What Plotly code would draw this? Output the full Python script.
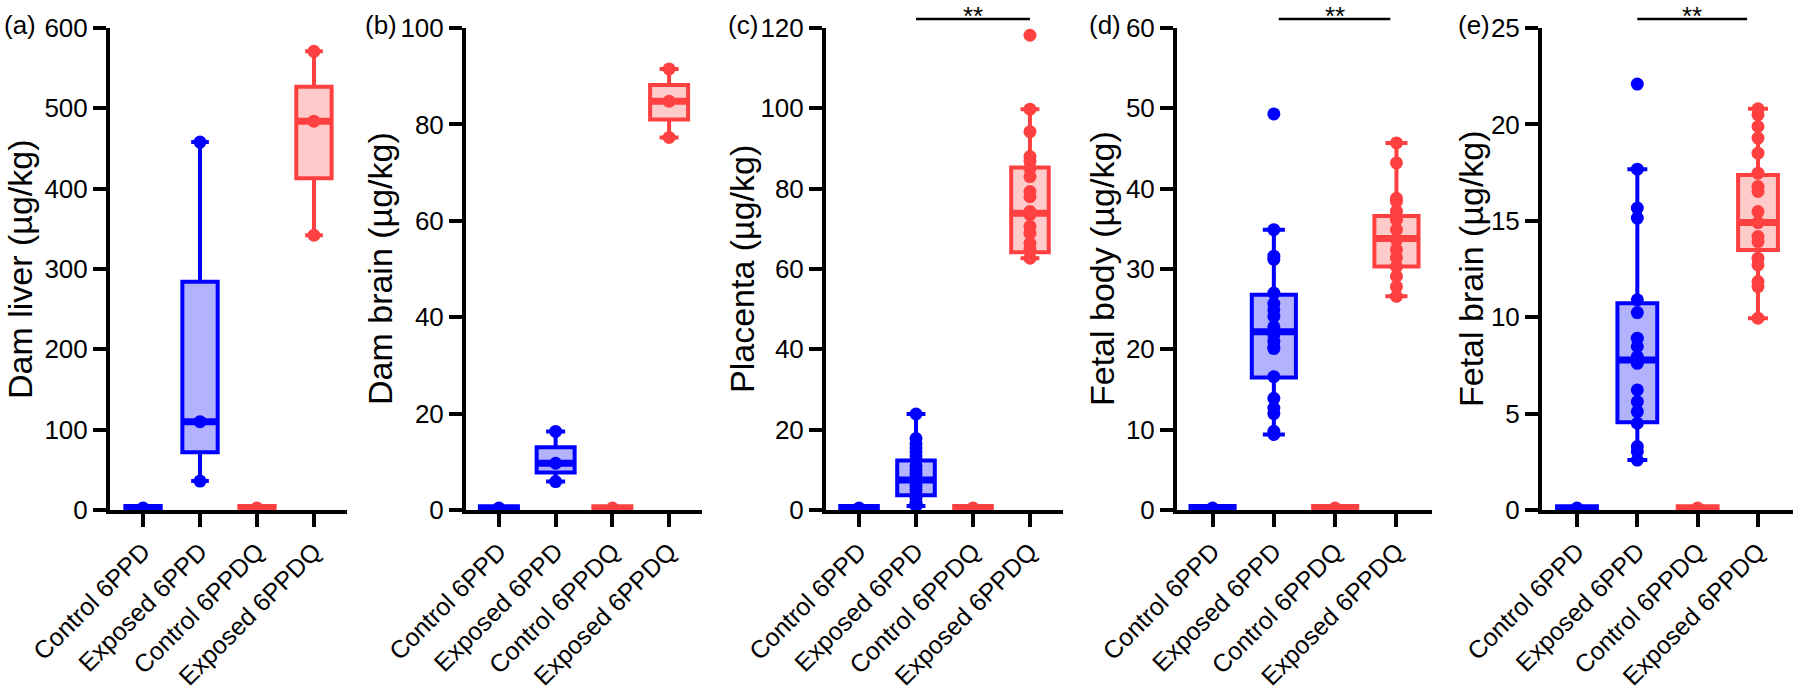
import plotly.graph_objects as go

# ---------------- data ----------------
categories = ["Control 6PPD", "Exposed 6PPD", "Control 6PPDQ", "Exposed 6PPDQ"]
y_titles = ["Dam liver (µg/kg)", "Dam brain (µg/kg)", "Placenta (µg/kg)",
            "Fetal body (µg/kg)", "Fetal brain (µg/kg)"]
panel_labels = ["(a)", "(b)", "(c)", "(d)", "(e)"]
y_max = [600, 100, 120, 60, 25]
y_dtick = [100, 20, 20, 10, 5]

# control groups (values near zero)
ctrl_6ppd = [2.5, 0.4, 0.5, 0.25, 0.1]
ctrl_6ppdq = [2.5, 0.4, 0.5, 0.25, 0.1]

# exposed 6PPD individual values
a_exp_6ppd = [36, 110, 458]
b_exp_6ppd = [5.9, 9.7, 16.3]
c_exp_6ppd = [23.9, 17.8, 16.5, 15.5, 14.5, 13.5, 12.5, 11.0, 10.0, 9.0, 8.0,
              7.5, 7.0, 6.0, 5.0, 4.0, 3.0, 2.0, 1.5, 1.0]
d_exp_6ppd = [49.3, 34.9, 31.6, 31.2, 27.0, 25.7, 24.9, 24.1, 22.8, 21.8, 21.0,
              20.3, 20.1, 16.6, 13.9, 12.7, 12.0, 9.8, 9.4]
e_exp_6ppd = [22.09, 17.68, 15.66, 15.14, 10.90, 10.24, 8.91, 8.48, 7.96, 7.61,
              6.23, 5.62, 5.10, 4.50, 3.29, 3.03, 2.59]

# exposed 6PPDQ individual values
a_exp_6ppdq = [342, 484, 571]
b_exp_6ppdq = [77.3, 84.8, 91.5]
c_exp_6ppdq = [118.2, 99.8, 94.2, 88.0, 86.8, 85.0, 83.0, 79.3, 78.0, 74.3,
               73.5, 70.6, 68.9, 66.4, 65.0, 62.7]
d_exp_6ppdq = [45.7, 43.2, 38.8, 38.4, 37.2, 36.1, 34.9, 33.6, 32.4, 31.4,
               30.3, 29.1, 27.8, 26.6]
e_exp_6ppdq = [20.81, 20.5, 19.89, 19.29, 18.51, 17.47, 16.78, 16.52, 15.48,
               14.91, 14.18, 13.92, 13.06, 12.71, 11.85, 11.59, 9.95]

# box statistics for exposed groups (panels a..e)
exp_6ppd_q1 = [72, 7.8, 3.7, 16.5, 4.55]
exp_6ppd_med = [110, 9.7, 7.5, 22.2, 7.78]
exp_6ppd_q3 = [284, 13.0, 12.3, 26.8, 10.73]
exp_6ppd_lo = [36, 5.9, 1.0, 9.4, 2.59]
exp_6ppd_hi = [458, 16.3, 23.9, 34.9, 17.68]

exp_6ppdq_q1 = [413, 81.0, 64.2, 30.3, 13.49]
exp_6ppdq_med = [484, 84.8, 73.9, 33.8, 14.91]
exp_6ppdq_q3 = [527, 88.2, 85.3, 36.6, 17.38]
exp_6ppdq_lo = [342, 77.3, 62.7, 26.6, 9.95]
exp_6ppdq_hi = [571, 91.5, 99.8, 45.7, 20.81]

significance = ["", "", "**", "**", "**"]

# ---------------- styling / layout ----------------
W, H = 1800, 694
x_dom_px = [(110, 347), (466, 702), (826, 1063), (1177, 1432), (1542, 1793)]
y_dom_px = (510, 28)  # bottom, top pixel
box_w = [0.62, 0.67, 0.66, 0.72, 0.66]
title_x_px = [20, 380, 742, 1102, 1471]
label_x_px = [2, 363, 726, 1087, 1456]
sig_span = [None, None, (1, 3), (1.08, 2.9), (1, 2.82)]

BLUE = "rgb(0,0,255)"
BLUE_F = "rgba(0,0,255,0.30)"
RED = "rgb(255,64,64)"
RED_F = "rgba(255,64,64,0.28)"
FONT = "Arial, Liberation Sans, sans-serif"

exp6 = [a_exp_6ppd, b_exp_6ppd, c_exp_6ppd, d_exp_6ppd, e_exp_6ppd]
exp6q = [a_exp_6ppdq, b_exp_6ppdq, c_exp_6ppdq, d_exp_6ppdq, e_exp_6ppdq]

fig = go.Figure()
annotations = []
shapes = []

for p in range(5):
    ax = "" if p == 0 else str(p + 1)
    xa, ya = "x" + ax, "y" + ax
    groups = [
        dict(pts=[ctrl_6ppd[p]], q1=0, med=ctrl_6ppd[p], q3=2 * ctrl_6ppd[p],
             lo=0, hi=2 * ctrl_6ppd[p], col=BLUE, fill=BLUE_F),
        dict(pts=exp6[p], q1=exp_6ppd_q1[p], med=exp_6ppd_med[p], q3=exp_6ppd_q3[p],
             lo=exp_6ppd_lo[p], hi=exp_6ppd_hi[p], col=BLUE, fill=BLUE_F),
        dict(pts=[ctrl_6ppdq[p]], q1=0, med=ctrl_6ppdq[p], q3=2 * ctrl_6ppdq[p],
             lo=0, hi=2 * ctrl_6ppdq[p], col=RED, fill=RED_F),
        dict(pts=exp6q[p], q1=exp_6ppdq_q1[p], med=exp_6ppdq_med[p], q3=exp_6ppdq_q3[p],
             lo=exp_6ppdq_lo[p], hi=exp_6ppdq_hi[p], col=RED, fill=RED_F),
    ]
    for i, g in enumerate(groups):
        fig.add_trace(go.Box(
            x=[i], q1=[g["q1"]], median=[g["med"]], q3=[g["q3"]],
            lowerfence=[g["lo"]], upperfence=[g["hi"]],
            width=box_w[p], line=dict(color=g["col"], width=4),
            fillcolor=g["fill"], boxpoints=False, showlegend=False,
            xaxis=xa, yaxis=ya, hoverinfo="skip"))
        if i in (1, 3):
            hw = box_w[p] / 2
            fig.add_trace(go.Scatter(
                x=[i - hw, i + hw], y=[g["med"], g["med"]], mode="lines",
                line=dict(color=g["col"], width=7), showlegend=False,
                xaxis=xa, yaxis=ya, hoverinfo="skip"))
        fig.add_trace(go.Scatter(
            x=[i] * len(g["pts"]), y=g["pts"], mode="markers",
            marker=dict(color=g["col"], size=13, line=dict(width=0)),
            showlegend=False, cliponaxis=False, xaxis=xa, yaxis=ya,
            hoverinfo="skip"))

    x0, x1 = x_dom_px[p]
    axis_common = dict(showline=True, linewidth=4, linecolor="black",
                       ticks="outside", ticklen=13, tickwidth=4, tickcolor="black",
                       showgrid=False, zeroline=False, automargin=False)
    fig.layout["xaxis" + ax] = dict(
        domain=[x0 / W, x1 / W], anchor=ya, range=[-0.58, 3.58],
        tickvals=[0, 1, 2, 3], ticktext=categories, tickangle=-45,
        tickfont=dict(family=FONT, size=25, color="black"), **axis_common)
    fig.layout["yaxis" + ax] = dict(
        domain=[(H - y_dom_px[0]) / H, (H - y_dom_px[1]) / H], anchor=xa,
        range=[0, y_max[p]], dtick=y_dtick[p],
        tickfont=dict(family=FONT, size=26, color="black"), **axis_common)

    annotations.append(dict(
        text=y_titles[p], textangle=-90, xref="paper", yref="paper",
        x=title_x_px[p] / W, y=(H - 269) / H, xanchor="center", yanchor="middle",
        showarrow=False, font=dict(family=FONT, size=34, color="black")))
    annotations.append(dict(
        text=panel_labels[p], xref="paper", yref="paper",
        x=label_x_px[p] / W, y=(H - 25) / H, xanchor="left", yanchor="middle",
        showarrow=False, font=dict(family=FONT, size=26, color="black")))

    if significance[p]:
        s0, s1 = sig_span[p]
        shapes.append(dict(type="line", xref=xa, yref="paper", x0=s0, x1=s1,
                           y0=(H - 19) / H, y1=(H - 19) / H,
                           line=dict(color="black", width=2.5)))
        annotations.append(dict(
            text=significance[p], xref=xa, yref="paper", x=(s0 + s1) / 2,
            y=1.0, xanchor="center", yanchor="top", borderpad=0,
            showarrow=False, font=dict(family=FONT, size=26, color="black")))

fig.update_layout(width=W, height=H, margin=dict(l=0, r=0, t=0, b=0, autoexpand=False),
                  plot_bgcolor="white", paper_bgcolor="white",
                  annotations=annotations, shapes=shapes,
                  font=dict(family=FONT, color="black"))

fig.write_html("out.html", config={"displayModeBar": False},
               post_script="document.body.style.margin='0px';document.body.style.padding='0px';")
